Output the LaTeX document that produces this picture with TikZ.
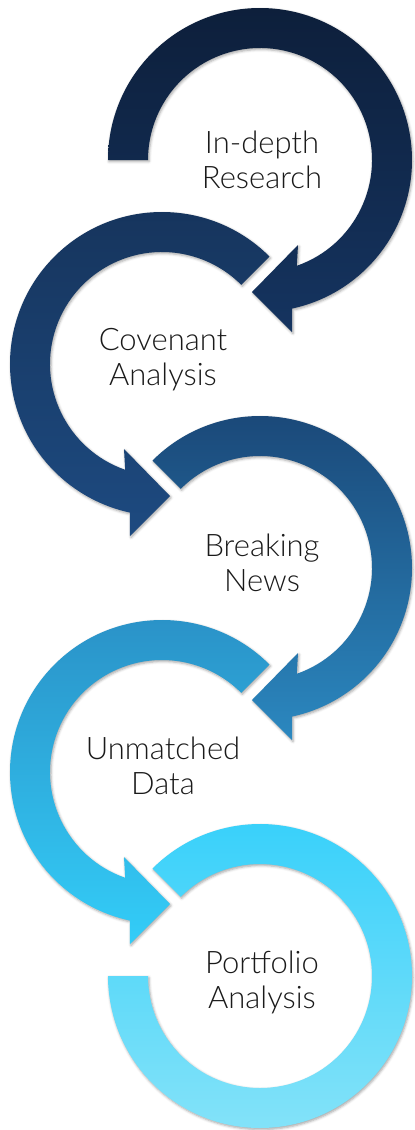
\documentclass[tikz,border=0pt]{standalone}
\usepackage{fontspec}
\setmainfont{Lato Light}
\usetikzlibrary{shadows.blur,calc}
\definecolor{ra1}{HTML}{0D1F3B}\definecolor{rb1}{HTML}{153460}
\definecolor{ra2}{HTML}{16345C}\definecolor{rb2}{HTML}{1D4A80}
\definecolor{ra3}{HTML}{1A4676}\definecolor{rb3}{HTML}{2B88C0}
\definecolor{ra4}{HTML}{2A90C6}\definecolor{rb4}{HTML}{33CDF8}
\definecolor{ra5}{HTML}{36D0FA}\definecolor{rb5}{HTML}{86E3F9}
\definecolor{txt}{HTML}{1A1A1A}
\begin{document}
\begin{tikzpicture}[x=1pt,y=-1pt,
  ringshape/.style={blur shadow={shadow xshift=1pt,shadow yshift=-1.5pt,shadow blur radius=2.5pt,shadow opacity=35}},
  label/.style={align=center,text=txt,font=\fontsize{31}{35}\selectfont,inner sep=0pt}]
\useasboundingbox (0,0) rectangle (415,1130);
\coordinate (c1) at (260,160);
\coordinate (c2) at (162,364);
\coordinate (c3) at (260,568);
\coordinate (c4) at (162,772);
\coordinate (c5) at (260,976);
% ring 1 (clockwise, arrow at bottom pointing left)
\begin{scope}[shift={(c1)}]
\path[ringshape,top color=ra1,bottom color=rb1]
  (180:152) arc[start angle=180,end angle=437.8,radius=152]
  -- (32,172) -- (-8,132) -- (38,85) -- (430.8:112)
  arc[start angle=430.8,end angle=180,radius=112] -- cycle;
\end{scope}
% ring 2 (counter-clockwise, arrow at bottom pointing right)
\begin{scope}[shift={(c2)}]
\path[ringshape,top color=ra2,bottom color=rb2]
  (315:152) arc[start angle=315,end angle=102.2,radius=152]
  -- (-32,172) -- (8,132) -- (-38,85) -- (109.2:112)
  arc[start angle=109.2,end angle=315,radius=112] -- cycle;
\end{scope}
% ring 3
\begin{scope}[shift={(c3)}]
\path[ringshape,top color=ra3,bottom color=rb3]
  (225:152) arc[start angle=225,end angle=437.8,radius=152]
  -- (32,172) -- (-8,132) -- (38,85) -- (430.8:112)
  arc[start angle=430.8,end angle=225,radius=112] -- cycle;
\end{scope}
% ring 4
\begin{scope}[shift={(c4)}]
\path[ringshape,top color=ra4,bottom color=rb4]
  (315:152) arc[start angle=315,end angle=102.2,radius=152]
  -- (-32,172) -- (8,132) -- (-38,85) -- (109.2:112)
  arc[start angle=109.2,end angle=315,radius=112] -- cycle;
\end{scope}
% ring 5 (no arrow)
\begin{scope}[shift={(c5)}]
\path[ringshape,top color=ra5,bottom color=rb5]
  (225:152) arc[start angle=225,end angle=540,radius=152]
  -- (540:112) arc[start angle=540,end angle=225,radius=112] -- cycle;
\end{scope}
\node[label] (t1) at (262,160) {In-depth\\Research};
\node[label] (t2) at (163,360) {Covenant\\Analysis};
\node[label] (t3) at (262,563) {Breaking\\News};
\node[label] (t4) at (163,766) {Unmatched\\Data};
\node[label] (t5) at (262,982) {Portfolio\\Analysis};
\end{tikzpicture}
\end{document}
